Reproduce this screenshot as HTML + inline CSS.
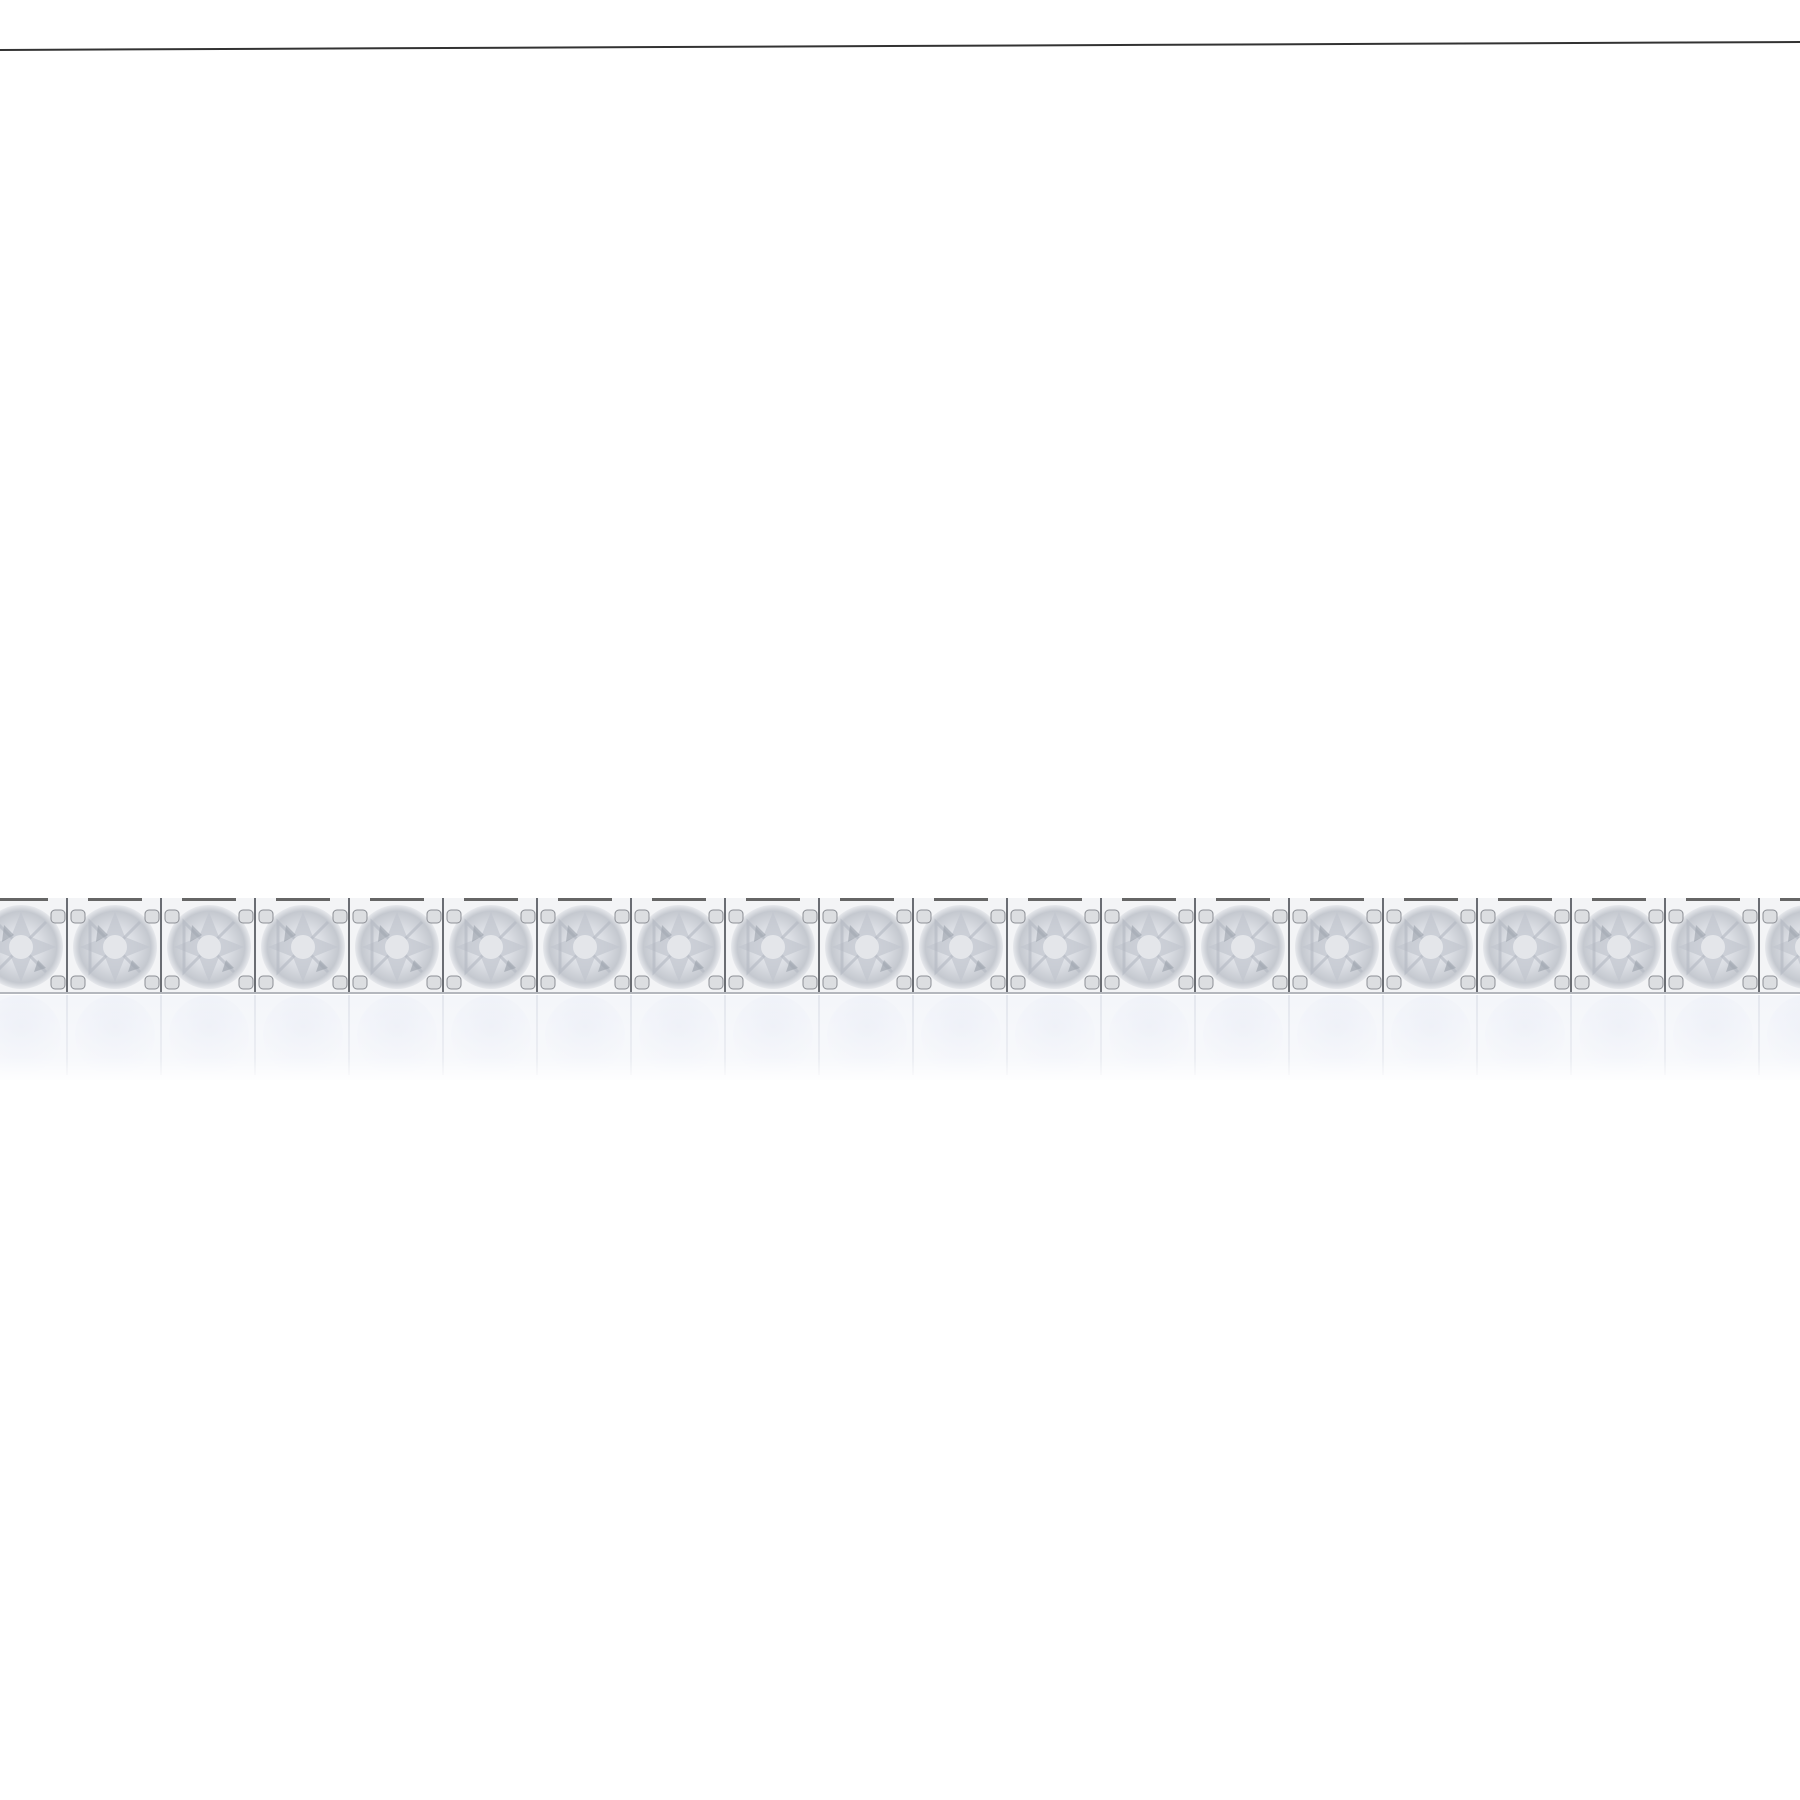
<!DOCTYPE html>
<html><head><meta charset="utf-8"><style>html,body{margin:0;padding:0;background:#fff;width:1800px;height:1800px;overflow:hidden}</style></head>
<body>
<svg width="1800" height="1800" viewBox="0 0 1800 1800" xmlns="http://www.w3.org/2000/svg">
<defs>
<radialGradient id="st" cx="50%" cy="50%" r="50%">
<stop offset="0" stop-color="#eef0f4"/>
<stop offset="0.5" stop-color="#dadde3"/>
<stop offset="0.85" stop-color="#c4c8cf"/>
<stop offset="1" stop-color="#e6e8ec"/>
</radialGradient>
<radialGradient id="rf" cx="50%" cy="40%" r="55%">
<stop offset="0" stop-color="#eceff7"/>
<stop offset="1" stop-color="#f3f5fa"/>
</radialGradient>
<linearGradient id="rfade" x1="0" y1="0" x2="0" y2="1">
<stop offset="0" stop-color="#fff" stop-opacity="0"/>
<stop offset="0.7" stop-color="#fff" stop-opacity="0.3"/>
<stop offset="1" stop-color="#fff" stop-opacity="1"/>
</linearGradient>
<g id="link">
<rect x="0" y="898" width="94" height="96" fill="#f3f4f6"/>
<rect x="20" y="898" width="54" height="3" fill="#666"/>
<circle cx="47" cy="947" r="42" fill="url(#st)"/>
<polygon points="47,912 57,937 82,947 57,957 47,982 37,957 12,947 37,937" fill="#c2c6ce" opacity=".7"/>
<polygon points="22,922 47,947 72,922 47,947 72,972 47,947 22,972" fill="none" stroke="#b3b8c1" stroke-width="3" opacity=".6"/>
<circle cx="47" cy="947" r="12" fill="#e4e6ea"/>
<path d="M30 925 L40 935 L28 942Z M64 960 L72 968 L60 972Z" fill="#9aa0aa" opacity=".6"/>
<rect x="3" y="910" width="14" height="13" rx="4" fill="#dcdee1" stroke="#8c8f95" stroke-width="1"/>
<rect x="77" y="910" width="14" height="13" rx="4" fill="#dcdee1" stroke="#8c8f95" stroke-width="1"/>
<rect x="3" y="976" width="14" height="13" rx="4" fill="#dcdee1" stroke="#8c8f95" stroke-width="1"/>
<rect x="77" y="976" width="14" height="13" rx="4" fill="#dcdee1" stroke="#8c8f95" stroke-width="1"/>
<rect x="92" y="898" width="2" height="96" fill="#6a6d73"/>
<rect x="0" y="992" width="94" height="2" fill="#b4b7bd"/>
</g>
<g id="rlink">
<rect x="0" y="995" width="94" height="85" fill="#f4f6fa"/>
<circle cx="47" cy="1035" r="40" fill="url(#rf)"/>
<rect x="92" y="995" width="2" height="80" fill="#e4e7ee"/>
</g>
</defs>
<path d="M0 50 L1800 42" stroke="#333" stroke-width="2"/>
<g transform="translate(-26,0)">
<use href="#link" x="0"/><use href="#link" x="94"/><use href="#link" x="188"/><use href="#link" x="282"/>
<use href="#link" x="376"/><use href="#link" x="470"/><use href="#link" x="564"/><use href="#link" x="658"/>
<use href="#link" x="752"/><use href="#link" x="846"/><use href="#link" x="940"/><use href="#link" x="1034"/>
<use href="#link" x="1128"/><use href="#link" x="1222"/><use href="#link" x="1316"/><use href="#link" x="1410"/>
<use href="#link" x="1504"/><use href="#link" x="1598"/><use href="#link" x="1692"/><use href="#link" x="1786"/>
<use href="#rlink" x="0"/><use href="#rlink" x="94"/><use href="#rlink" x="188"/><use href="#rlink" x="282"/>
<use href="#rlink" x="376"/><use href="#rlink" x="470"/><use href="#rlink" x="564"/><use href="#rlink" x="658"/>
<use href="#rlink" x="752"/><use href="#rlink" x="846"/><use href="#rlink" x="940"/><use href="#rlink" x="1034"/>
<use href="#rlink" x="1128"/><use href="#rlink" x="1222"/><use href="#rlink" x="1316"/><use href="#rlink" x="1410"/>
<use href="#rlink" x="1504"/><use href="#rlink" x="1598"/><use href="#rlink" x="1692"/><use href="#rlink" x="1786"/>
</g>
<rect x="0" y="995" width="1800" height="90" fill="url(#rfade)"/>
</svg>
</body></html>
